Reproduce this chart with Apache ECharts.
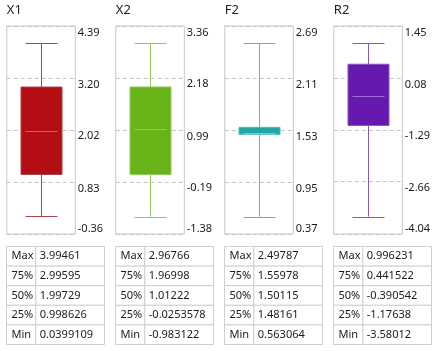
<!DOCTYPE html>
<html><head><meta charset="utf-8">
<script src="https://cdn.jsdelivr.net/npm/echarts@6/dist/echarts.min.js"></script>
<style>html,body{margin:0;padding:0;background:#fff}#c{width:439px;height:351px}</style>
</head><body><div id="c"></div>
<script>
// ---- data ----
const names = ['X1', 'X2', 'F2', 'R2'];
const maxVals = [3.99461, 2.96766, 2.49787, 0.996231];
const q3Vals = [2.99595, 1.96998, 1.55978, 0.441522];
const medVals = [1.99729, 1.01222, 1.50115, -0.390542];
const q1Vals = [0.998626, -0.0253578, 1.48161, -1.17638];
const minVals = [0.0399109, -0.983122, 0.563064, -3.58012];
const statLabels = ['Max', '75%', '50%', '25%', 'Min'];
const tickX1 = ['-0.36', '0.83', '2.02', '3.20', '4.39'];
const tickX2 = ['-1.38', '-0.19', '0.99', '2.18', '3.36'];
const tickF2 = ['0.37', '0.95', '1.53', '2.11', '2.69'];
const tickR2 = ['-4.04', '-2.66', '-1.29', '0.08', '1.45'];
const tickSets = [tickX1, tickX2, tickF2, tickR2];

// ---- styles ----
const boxColors = ['#b20e13', '#68b418', '#24a4a4', '#6619ae'];
const whiskerColors = ['#a8464d', '#93c85f', '#4bbfbf', '#8a55bd'];
const medianColors = ['#d9585d', '#8fd04a', '#6fd0d0', '#a06ad8'];
const FONT = '"Noto Sans", "Open Sans", sans-serif';
const step = 109, left0 = 6.8, plotW = 68.5, plotTop = 26, plotH = 208;

const chart = echarts.init(document.getElementById('c'), null, {renderer: 'canvas'});

const grids = [], xAxes = [], yAxes = [], series = [], graphics = [];
names.forEach((n, i) => {
  const ticks = tickSets[i].map(Number);
  const gl = left0 + step * i;
  grids.push({left: gl, top: plotTop, width: plotW, height: plotH, show: true,
    borderColor: '#c6c6c6', borderWidth: 1, backgroundColor: '#fff'});
  xAxes.push({type: 'category', gridIndex: i, data: [n], show: false});
  yAxes.push({
    type: 'value', gridIndex: i, position: 'right',
    min: ticks[0], max: ticks[ticks.length - 1],
    axisLine: {show: false},
    axisTick: {show: false, customValues: ticks},
    splitLine: {show: true, lineStyle: {color: '#c6c6c6', type: [4, 3], width: 1}},
    axisLabel: {
      customValues: ticks, margin: 2.5, color: '#1a1a1a', fontSize: 11, fontFamily: FONT,
      verticalAlign: 'top', verticalAlignMinLabel: 'bottom', padding: [1, 0, 0, 0],
      formatter: (v) => {
        const k = ticks.indexOf(v);
        return k >= 0 ? tickSets[i][k] : '';
      }
    }
  });
  series.push({
    type: 'custom', xAxisIndex: i, yAxisIndex: i,
    data: [[0, minVals[i], q1Vals[i], medVals[i], q3Vals[i], maxVals[i]]],
    encode: {x: 0, y: [1, 2, 3, 4, 5]},
    renderItem: (params, api) => {
      const c = (v) => api.coord([0, v]);
      const x = Math.floor(c(api.value(1))[0]) + 0.5;
      const yMin = c(api.value(1))[1], yQ1 = c(api.value(2))[1], yMed = c(api.value(3))[1],
            yQ3 = c(api.value(4))[1], yMax = c(api.value(5))[1];
      const bw = 41, cw = 32, mw = 32;
      const wl = {stroke: whiskerColors[i], lineWidth: 1, fill: null};
      return {type: 'group', children: [
        {type: 'line', shape: {x1: x, y1: yMin, x2: x, y2: yMax}, style: wl},
        {type: 'line', shape: {x1: x - cw / 2, y1: Math.round(yMin) + 0.5, x2: x + cw / 2, y2: Math.round(yMin) + 0.5}, style: wl},
        {type: 'line', shape: {x1: x - cw / 2, y1: Math.round(yMax) + 0.5, x2: x + cw / 2, y2: Math.round(yMax) + 0.5}, style: wl},
        {type: 'rect', shape: {x: x - bw / 2, y: yQ3, width: bw, height: yQ1 - yQ3},
          style: {fill: boxColors[i], stroke: whiskerColors[i], lineWidth: 1}},
        {type: 'line', shape: {x1: x - mw / 2, y1: Math.round(yMed) + 0.5, x2: x + mw / 2, y2: Math.round(yMed) + 0.5},
          style: {stroke: medianColors[i], lineWidth: 1}}
      ]};
    }
  });
  // title
  graphics.push({type: 'text', left: gl, top: 4,
    style: {text: n, fontSize: 13, fontFamily: FONT, fill: '#222'}});
  // table
  const tl = gl - 0.3, tt = 246.5, tw = 98, c1 = 29.3, rh = 19.6;
  const vals = [maxVals[i], q3Vals[i], medVals[i], q1Vals[i], minVals[i]];
  const children = [];
  statLabels.forEach((lab, r) => {
    const y = tt + r * rh;
    children.push({type: 'rect', shape: {x: tl, y: y, width: c1, height: rh},
      style: {fill: '#fff', stroke: '#cfcfcf', lineWidth: 1}});
    children.push({type: 'rect', shape: {x: tl + c1, y: y, width: tw - c1, height: rh},
      style: {fill: '#fff', stroke: '#cfcfcf', lineWidth: 1}});
    children.push({type: 'text', x: tl + 5, y: y + rh / 2,
      style: {text: lab, fontSize: 11, fontFamily: FONT, fill: '#1a1a1a', verticalAlign: 'middle'}});
    children.push({type: 'text', x: tl + c1 + 4, y: y + rh / 2,
      style: {text: String(vals[r]), fontSize: 11, fontFamily: FONT, fill: '#1a1a1a', verticalAlign: 'middle'}});
  });
  graphics.push({type: 'group', children: children});
});

chart.setOption({
  animation: false,
  backgroundColor: '#fff',
  grid: grids, xAxis: xAxes, yAxis: yAxes, series: series,
  graphic: graphics
});
</script></body></html>
